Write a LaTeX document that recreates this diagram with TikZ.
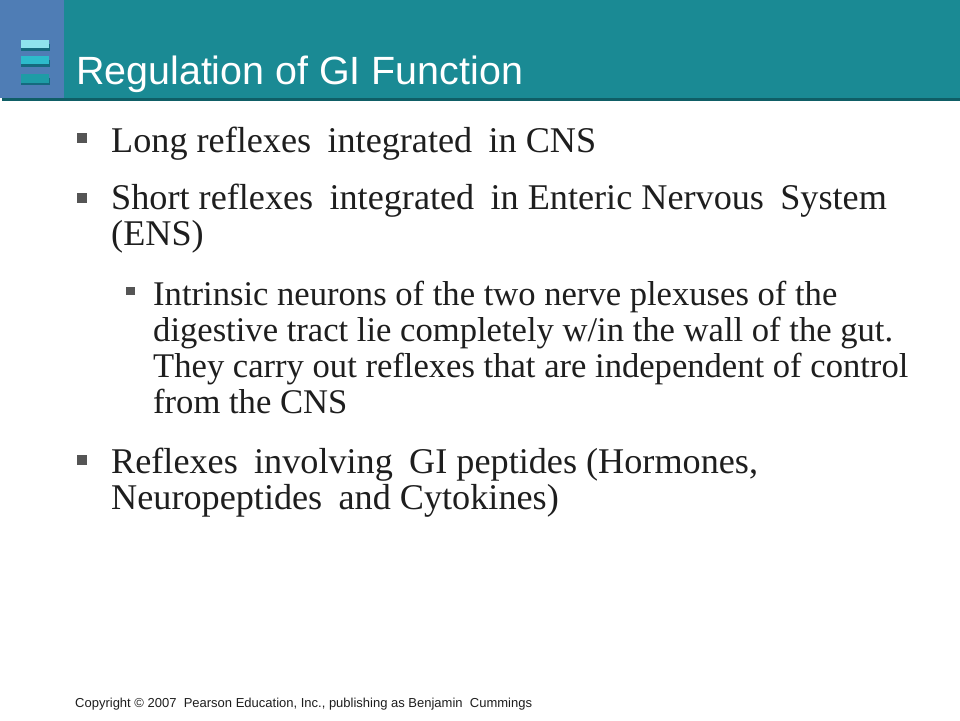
\documentclass[tikz,border=0pt]{standalone}
\usepackage{fontspec}
\setmainfont{Liberation Serif}
\newfontfamily\arialfont{Liberation Sans}
\definecolor{leftblock}{HTML}{4F7DB5}
\definecolor{headteal}{HTML}{1A8A94}
\definecolor{headline}{HTML}{0F5E66}
\definecolor{barA}{HTML}{8FE3EE}
\definecolor{barB}{HTML}{2DBBCB}
\definecolor{barC}{HTML}{1E9CA6}
\definecolor{barshadow}{HTML}{156A7E}
\definecolor{bodytext}{HTML}{1E1E1E}
\definecolor{bulletgrey}{HTML}{555555}
\newcommand{\gapx}{\hspace{0.2em}}
\tikzset{
  mainline/.style={anchor=base west, inner sep=0pt, text=bodytext, font=\fontsize{36.2}{36}\selectfont},
  subline/.style={anchor=base west, inner sep=0pt, text=bodytext, font=\fontsize{34.6}{36}\selectfont},
  mainbullet/.style={fill=bulletgrey, draw=none, minimum size=10pt, inner sep=0pt},
  subbullet/.style={fill=bulletgrey, draw=none, minimum size=8.5pt, inner sep=0pt},
  iconbar/.style={draw=none, minimum width=28pt, minimum height=8.4pt, inner sep=0pt}
}
\begin{document}
\begin{tikzpicture}[x=1pt,y=-1pt]
\useasboundingbox (0,0) rectangle (960,720);
\fill[white] (0,0) rectangle (960,720);
% header
\fill[headteal] (64,0) rectangle (960,98);
\fill[leftblock] (0,0) rectangle (64,98);
\fill[headline] (2,98) rectangle (960,101);
% icon
\fill[barshadow] (21,44) rectangle (49.5,51);
\node[iconbar, fill=barA] (barone) at (35,44.2) {};
\fill[barshadow] (21,60) rectangle (49.5,67);
\node[iconbar, fill=barB] (bartwo) at (35,60.2) {};
\fill[barshadow] (21,78) rectangle (49.5,85);
\node[iconbar, fill=barC] (barthree) at (35,78.5) {};
% title
\node[anchor=base west, inner sep=0pt, text=white, font=\arialfont\fontsize{39.4}{42}\selectfont] (title) at (76,84) {Regulation of GI Function};
% bullets
\node[mainbullet] (b1) at (82,138) {};
\node[mainline] (t1) at (111,152) {Long reflexes\gapx{} integrated\gapx{} in CNS};
\node[mainbullet] (b2) at (82,198) {};
\node[mainline] (t2) at (111,209) {Short reflexes\gapx{} integrated\gapx{} in Enteric Nervous\gapx{} System};
\node[mainline] (t3) at (111,245) {(ENS)};
\node[subbullet] (s1) at (130.5,291) {};
\node[subline] (u1) at (153,305) {Intrinsic neurons of the two nerve plexuses of the};
\node[subline] (u2) at (153,341) {digestive tract lie completely w/in the wall of the gut.};
\node[subline] (u3) at (153,377) {They carry out reflexes that are independent of control};
\node[subline] (u4) at (153,413) {from the CNS};
\node[mainbullet] (b3) at (82,460) {};
\node[mainline] (t4) at (111,473) {Reflexes\gapx{} involving\gapx{} GI peptides (Hormones,};
\node[mainline] (t5) at (111,509) {Neuropeptides\gapx{} and Cytokines)};
% footer
\node[anchor=base west, inner sep=0pt, text=bodytext, font=\arialfont\fontsize{13}{15}\selectfont] (copy) at (75,707) {Copyright \textcopyright\ 2007\ \ Pearson Education, Inc., publishing as Benjamin\ \ Cummings};
\end{tikzpicture}
\end{document}
